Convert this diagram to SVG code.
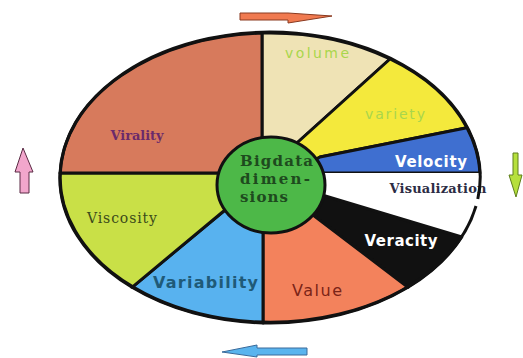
<svg xmlns="http://www.w3.org/2000/svg" width="523" height="358" viewBox="0 0 523 358">
  <style>
    .seg { stroke: #111; stroke-width: 3; stroke-linejoin: round; }
    .rim { fill: none; stroke: #111; stroke-width: 3; }
    .hub { fill: #4db848; stroke: #111; stroke-width: 3; }
    .arrow { stroke-width: 1; stroke-linejoin: miter; }
    .lite { font-family: "DejaVu Sans", sans-serif; font-size: 14px; fill: #a9d64c; }
    .wsans { font-family: "DejaVu Sans", sans-serif; font-size: 15px; font-weight: bold; fill: #ffffff; }
    .serif { font-family: "DejaVu Serif", "Liberation Serif", serif; }
    .hubtext { font-family: "DejaVu Serif", "Liberation Serif", serif; font-size: 15px; font-weight: bold; fill: #1e4a1e; }
  </style>

  <rect width="523" height="358" fill="#ffffff"/>

  <!-- ring of dimensions: each wedge runs from the hub out to the outer ellipse (cx 270, cy 178, rx 210, ry 145) -->
  <g id="volume">
    <path class="seg" fill="#efe3b5" d="M262,138 L262,33.1 A210,145 0 0 1 390,59 L298,142 L271,185 Z"/>
    <text class="lite" x="317" y="58" text-anchor="middle" textLength="64">volume</text>
  </g>
  <g id="variety">
    <path class="seg" fill="#f4e93c" d="M298,142 L390,59 A210,145 0 0 1 467,127.8 L320,157 L271,185 Z"/>
    <text class="lite" x="395" y="119" text-anchor="middle" textLength="60">variety</text>
  </g>
  <g id="velocity">
    <path class="seg" fill="#3f6fd0" d="M320,157 L467,127.8 A210,145 0 0 1 480,173 L323,173 L271,185 Z"/>
    <text class="wsans" x="431" y="167" text-anchor="middle" textLength="72">Velocity</text>
  </g>
  <g id="visualization">
    <path fill="#ffffff" d="M323,173 L480,173 A210,145 0 0 1 461.8,237 L322,195 L271,185 Z"/>
    <text class="serif" x="438" y="193" text-anchor="middle" font-size="13" font-weight="bold" fill="#2c2c44" textLength="97">Visualization</text>
  </g>
  <g id="veracity">
    <path class="seg" fill="#111111" d="M322,195 L461.8,237 A210,145 0 0 1 408,287.3 L313,215 L271,185 Z"/>
    <text class="wsans" x="401" y="246" text-anchor="middle" textLength="73">Veracity</text>
  </g>
  <g id="value">
    <path class="seg" fill="#f3825c" d="M313,215 L408,287.3 A210,145 0 0 1 263,322.9 L263,232.6 L271,185 Z"/>
    <text x="317" y="296" text-anchor="middle" font-family="DejaVu Sans, sans-serif" font-size="16" fill="#7a2418" textLength="50">Value</text>
  </g>
  <g id="variability">
    <path class="seg" fill="#58b2ef" d="M263,232.6 L263,322.9 A210,145 0 0 1 132,287.3 L225,210 L271,185 Z"/>
    <text x="205.5" y="288" text-anchor="middle" font-family="DejaVu Sans, sans-serif" font-size="16" font-weight="bold" fill="#1f5a78" textLength="105">Variability</text>
  </g>
  <g id="viscosity">
    <path class="seg" fill="#c9e047" d="M225,210 L132,287.3 A210,145 0 0 1 60,173 L219,173 L271,185 Z"/>
    <text class="serif" x="122" y="223" text-anchor="middle" font-size="14" fill="#3b4a1a" textLength="70">Viscosity</text>
  </g>
  <g id="virality">
    <path class="seg" fill="#d77a5c" d="M219,173 L60,173 A210,145 0 0 1 262,33.1 L262,138 L271,185 Z"/>
    <text class="serif" x="137" y="140" text-anchor="middle" font-size="13" font-weight="bold" fill="#6b2a6b" textLength="53">Virality</text>
  </g>

  <!-- outer rim, left open beside the Visualization label -->
  <path class="rim" d="M477.8,199 A210,145 0 1 0 476,206"/>

  <g id="hub">
    <ellipse class="hub" cx="271" cy="185" rx="54" ry="48"/>
    <text class="hubtext" x="240" y="166" textLength="73">Bigdata</text>
    <text class="hubtext" x="240" y="184" textLength="70">dimen-</text>
    <text class="hubtext" x="240" y="202" textLength="48">sions</text>
  </g>

  <!-- rotation arrows around the ring -->
  <g id="connectors">
    <path class="arrow" fill="#f07a50" stroke="#8a3a20" d="M240,13 L288,13 L332,16 L288,23 L288,20 L240,20 Z"/>
    <path class="arrow" fill="#b6e03c" stroke="#5f7f1c" d="M513,153 L518,153 L518,175 L522,175 L516,197 L509,175 L513,175 Z"/>
    <path class="arrow" fill="#5ab4ee" stroke="#3a6a9a" d="M307,348 L257,348 L257,345 L222,352 L257,357 L257,355 L307,355 Z"/>
    <path class="arrow" fill="#f2a6cc" stroke="#5a2a44" d="M23,148 L33,172 L29,172 L29,193 L20,193 L20,172 L15,172 Z"/>
  </g>
</svg>
